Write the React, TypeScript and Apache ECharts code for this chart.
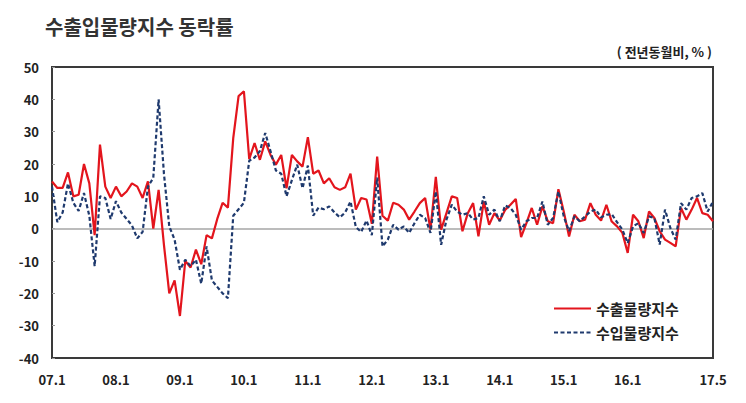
import React, { useEffect, useRef } from "react";
import * as echarts from "echarts";

// Months from 2007.01 to 2017.05 (labels like "07.1")
const startYear = 7;
const monthCount = 125;
const categories: string[] = [];
for (let i = 0; i < monthCount; i++) {
  const y = startYear + Math.floor(i / 12);
  const m = (i % 12) + 1;
  categories.push(`${String(y).padStart(2, "0")}.${m}`);
}

const shownLabels = ["07.1", "08.1", "09.1", "10.1", "11.1", "12.1", "13.1", "14.1", "15.1", "16.1", "17.5"];

const yTicks = { min: -40, max: 50, interval: 10 };

const exportIndex = [
  14.6, 12.6, 12.6, 17.4, 10, 10.5, 20, 14, -2, 26, 13, 9.5,
  13, 10, 11.5, 14, 13, 9.5, 14.6, 0, 12, -5, -20, -16,
  -27, -10, -12, -6.5, -11, -2, -3, 3, 8, 6.5, 28, 41,
  42.5, 21.5, 26.5, 21.3, 27, 22.8, 19.8, 22.8, 12.5, 22.8, 20.8, 19.2,
  28.3, 17, 18, 14, 15.6, 12.8, 12, 12.8, 17, 5.9, 9.5, 9,
  1.5, 22.3, 4, 2.5, 8, 7.4, 5.9, 2.8, 5.3, 7.9, 9.5, -0.3,
  16, -0.3, 4.8, 10, 9.5, -0.8, 4.8, 7.9, -2.4, 8.4, 1.2, 4.8,
  2.5, 5.8, 7.4, 9.2, -2.6, 1.7, 6.4, 1.2, 6.9, 2.3, 1.7, 12.2,
  5.3, -2.4, 4.3, 2.3, 2.8, 7.9, 4.3, 2.5, 7.4, 2.2, 0.7, -1.3,
  -7.5, 4.3, 2.3, -2.9, 5.3, 3.3, -0.8, -3.4, -4.4, -5.5, 6.4, 2.8,
  5.9, 9.5, 4.8, 4.3, 2.3,
];

const importIndex = [
  13, 2, 5, 14, 8, 5.5, 11, 4, -11.6, 10, 9.5, 3,
  8.5, 5, 3, 1, -3, -1, 13, 15.7, 40, 17, 0.7, -3.4,
  -12.7, -9.6, -11.6, -9.6, -17, -5.5, -16, -18, -20, -21.5, 4, 6,
  8, 21, 22, 24, 29.6, 23.9, 18, 17, 10, 15, 19.8, 12.5,
  19.5, 4, 6.5, 6, 6.9, 5, 3.5, 5, 8.4, 0.5, -1, 2.5,
  -2, 15.8, -5.5, -3.4, 1.2, -0.3, 0.7, -1.3, 1.7, 4.3, 3.3, -1.3,
  11.5, -5, 2.8, 7.4, 5.3, 4.3, 4.8, 2.8, 3.3, 10, 4.3, 5.9,
  2.3, 7.2, 6.4, 4.3, -0.3, 2.3, 3.3, 3.3, 8.4, 1.2, 3.3, 11.5,
  3.8, -0.8, 3.8, 2.3, 3.8, 5.3, 5.9, 3.5, 4.3, 4.5, 2, -0.3,
  -4.5, 0.7, 1.7, -1.3, 3.8, 3.3, -4.9, 5.9, 0.2, -3.4, 7.9, 5.9,
  9.5, 10, 11, 5.3, 8.4,
];

const seriesNames = ["수출물량지수", "수입물량지수"];
const titleText = "수출입물량지수 동락률";
const unitText = "( 전년동월비, % )";

const FONT = "'Noto Sans CJK KR', 'Noto Sans', sans-serif";

export default function App() {
  const ref = useRef<HTMLDivElement>(null);
  useEffect(() => {
    document.body.style.margin = "0";
    if (!ref.current) return;
    const chart = echarts.init(ref.current, undefined, { renderer: "svg" });
    chart.setOption({
      animation: false,
      backgroundColor: "#ffffff",
      textStyle: { fontFamily: FONT },
      title: {
        text: titleText,
        left: 40,
        top: 11,
        textStyle: { fontSize: 20, fontWeight: "bold", color: "#333", fontFamily: FONT },
      },
      graphic: [
        {
          type: "text",
          right: 34,
          top: 45,
          style: { text: unitText, fontSize: 13, fontWeight: "bold", fill: "#222", fontFamily: FONT },
        },
      ],
      legend: {
        orient: "vertical",
        left: 553,
        top: 301,
        padding: 0,
        itemWidth: 37,
        itemHeight: 12,
        itemGap: 9,
        itemStyle: { opacity: 0, borderWidth: 0 },
        textStyle: { fontSize: 15, fontWeight: "bold", color: "#222", fontFamily: FONT },
        data: seriesNames,
      },
      grid: {
        left: 52,
        right: 33,
        top: 67,
        bottom: 45,
        show: true,
        borderColor: "#3a3a3a",
        borderWidth: 2,
        backgroundColor: "transparent",
      },
      xAxis: {
        type: "category",
        data: categories,
        boundaryGap: false,
        axisLine: { show: false },
        axisTick: { show: false },
        splitLine: { show: false },
        axisLabel: {
          interval: 0,
          margin: 15,
          fontSize: 13,
          fontWeight: "bold",
          color: "#222",
          fontFamily: FONT,
          formatter: (v: string) => (shownLabels.includes(v) ? v : ""),
        },
      },
      yAxis: {
        type: "value",
        min: yTicks.min,
        max: yTicks.max,
        interval: yTicks.interval,
        axisLine: { show: false },
        axisTick: { show: true, inside: true, length: 3, lineStyle: { color: "#999" } },
        splitLine: { show: false },
        axisLabel: {
          margin: 13,
          fontSize: 13,
          fontWeight: "bold",
          color: "#222",
          fontFamily: FONT,
        },
      },
      series: [
        {
          name: seriesNames[0],
          type: "line",
          data: exportIndex,
          symbol: "none",
          z: 3,
          lineStyle: { color: "#e3151d", width: 2.2 },
          itemStyle: { color: "#e3151d" },
          markLine: {
            silent: true,
            symbol: "none",
            label: { show: false },
            lineStyle: { color: "#a6a6a6", width: 1.5, type: "solid" },
            data: [{ yAxis: 0 }],
            z: 1,
          },
        },
        {
          name: seriesNames[1],
          type: "line",
          data: importIndex,
          symbol: "none",
          z: 4,
          lineStyle: { color: "#1f3a6e", width: 2.2, type: [4, 2.5] },
          itemStyle: { color: "#1f3a6e" },
        },
      ],
    });
    return () => chart.dispose();
  }, []);
  return <div ref={ref} style={{ width: 746, height: 403 }} />;
}
